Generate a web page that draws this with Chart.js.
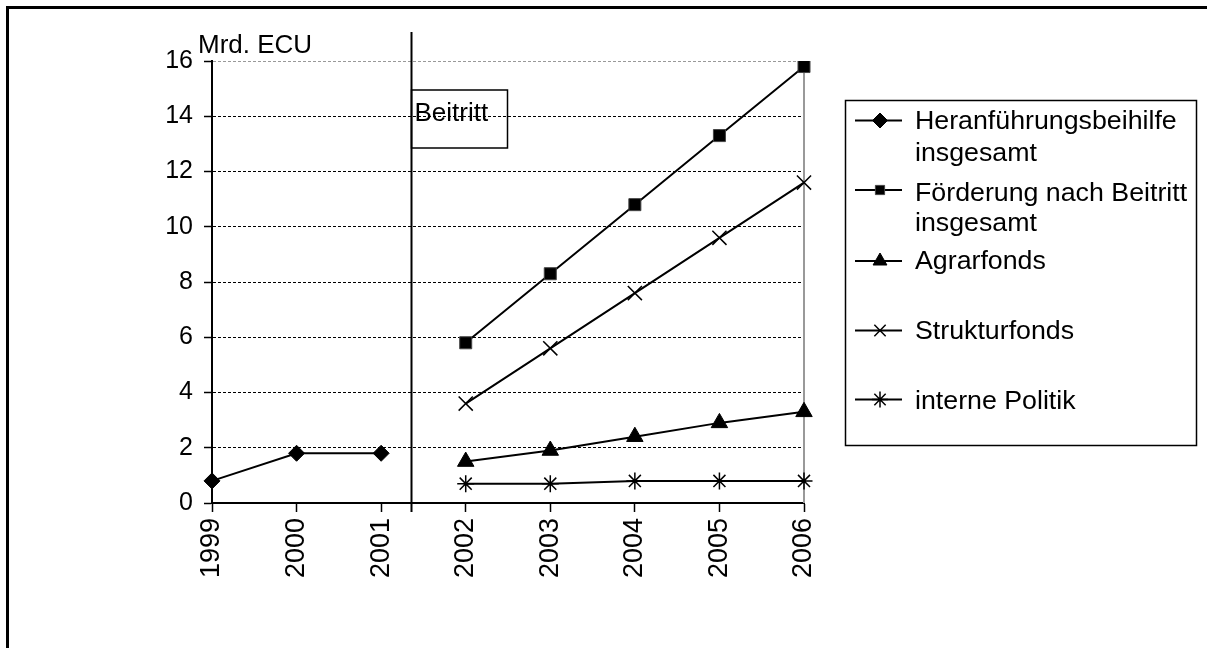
<!DOCTYPE html>
<html>
<head>
<meta charset="utf-8">
<script src="https://cdn.jsdelivr.net/npm/chart.js@4/dist/chart.umd.min.js"></script>
<style>
  html, body { margin: 0; padding: 0; background: #fff; }
  #wrap { width: 1207px; height: 648px; }
</style>
</head>
<body>
<div id="wrap"><canvas id="chart" width="1207" height="648"></canvas></div>
<script>
// Jahre und Beträge (Mrd. ECU)
const years = ['1999', '2000', '2001', '2002', '2003', '2004', '2005', '2006'];
const heranfuehrung  = [0.8, 1.8, 1.8, null, null, null, null, null];
const foerderung     = [null, null, null, 5.8, 8.3, 10.8, 13.3, 15.8];
const agrarfonds     = [null, null, null, 1.5, 1.9, 2.4, 2.9, 3.3];
const strukturfonds  = [null, null, null, 3.6, 5.6, 7.6, 9.6, 11.6];
const internePolitik = [null, null, null, 0.7, 0.7, 0.8, 0.8, 0.8];
const yTicks = [0, 2, 4, 6, 8, 10, 12, 14, 16];

const FONT = "'Liberation Sans', Arial, sans-serif";

function line(label, data, style, radius, legendRadius) {
  return {
    label: label,
    data: data,
    borderColor: '#000',
    borderWidth: 2,
    backgroundColor: '#000',
    pointStyle: style,
    pointRadius: radius,
    pointHoverRadius: radius,
    pointBorderColor: style === 'rect' ? '#444' : '#000',
    pointBorderWidth: style === 'crossRot' || style === 'star' ? 1.5 : 1,
    pointBackgroundColor: '#000',
    legendRadius: legendRadius,
    tension: 0,
    spanGaps: false
  };
}

// Rahmen, Beitrittslinie, Legende usw.
const extras = {
  id: 'extras',
  beforeDatasetsDraw(chart) {
    const ctx = chart.ctx;
    const area = chart.chartArea;
    const x = chart.scales.x;
    ctx.save();
    // rechte Begrenzung grau
    ctx.strokeStyle = '#999';
    ctx.lineWidth = 2;
    ctx.beginPath();
    ctx.moveTo(area.right, area.top);
    ctx.lineTo(area.right, area.bottom);
    ctx.stroke();

    // Trennlinie Beitritt
    const p2 = x.getPixelForValue(2), p3 = x.getPixelForValue(3);
    const sepX = Math.round(p2 + (p3 - p2) * 0.35) + 0.5;
    ctx.strokeStyle = '#000';
    ctx.lineWidth = 2;
    ctx.beginPath();
    ctx.moveTo(sepX, 32);
    ctx.lineTo(sepX, area.bottom + 9);
    ctx.stroke();

    // Kasten "Beitritt"
    ctx.lineWidth = 1.5;
    ctx.strokeRect(sepX, 90, 96, 58);
    ctx.fillStyle = '#000';
    ctx.font = '26px ' + FONT;
    ctx.textBaseline = 'alphabetic';
    ctx.textAlign = 'left';
    ctx.fillText('Beitritt', sepX + 3, 121);
    ctx.restore();
  },
  afterDraw(chart) {
    const ctx = chart.ctx;
    ctx.save();
    ctx.fillStyle = '#000';

    // äußerer Rahmen
    ctx.fillRect(6, 6, 1201, 3);
    ctx.fillRect(6, 6, 3, 642);

    // Einheit
    ctx.font = '26px ' + FONT;
    ctx.textAlign = 'left';
    ctx.textBaseline = 'alphabetic';
    ctx.fillText('Mrd. ECU', 198, 53);

    // Legende
    ctx.strokeStyle = '#000';
    ctx.lineWidth = 1.5;
    ctx.strokeRect(845.5, 100.5, 351, 345);

    const rows = [
      { marker: 120.5, base: [129, 161] },
      { marker: 190, base: [200.5, 231] },
      { marker: 261, base: [269] },
      { marker: 330.5, base: [339] },
      { marker: 399.5, base: [409] }
    ];
    const texts = [
      ['Heranführungsbeihilfe', 'insgesamt'],
      ['Förderung nach Beitritt', 'insgesamt'],
      ['Agrarfonds'],
      ['Strukturfonds'],
      ['interne Politik']
    ];
    chart.data.datasets.forEach((ds, i) => {
      const r = rows[i];
      ctx.strokeStyle = '#000';
      ctx.lineWidth = 2;
      ctx.beginPath();
      ctx.moveTo(855, r.marker);
      ctx.lineTo(902, r.marker);
      ctx.stroke();
      ctx.fillStyle = '#000';
      ctx.strokeStyle = ds.pointBorderColor;
      ctx.lineWidth = ds.pointBorderWidth;
      Chart.helpers.drawPoint(ctx, {
        pointStyle: ds.pointStyle,
        radius: ds.legendRadius,
        borderWidth: ds.pointBorderWidth,
        rotation: 0
      }, 880, r.marker);
      ctx.fillStyle = '#000';
      ctx.font = '25px ' + FONT;
      texts[i].forEach((t, k) => {
        ctx.save();
        ctx.translate(915, r.base[k]);
        ctx.scale(1.07, 1);
        ctx.fillText(t, 0, 0);
        ctx.restore();
      });
    });
    ctx.restore();
  }
};

new Chart(document.getElementById('chart'), {
  type: 'line',
  data: {
    labels: years,
    datasets: [
      line('Heranführungsbeihilfe insgesamt', heranfuehrung, 'rectRot', 8, 7.5),
      line('Förderung nach Beitritt insgesamt', foerderung, 'rect', 8.5, 6.5),
      line('Agrarfonds', agrarfonds, 'triangle', 9.5, 8),
      line('Strukturfonds', strukturfonds, 'crossRot', 10, 8),
      line('interne Politik', internePolitik, 'star', 8.5, 8)
    ]
  },
  options: {
    responsive: false,
    animation: false,
    events: [],
    layout: { padding: { left: 0, top: 61, right: 403, bottom: 0 } },
    plugins: {
      legend: { display: false },
      tooltip: { enabled: false }
    },
    scales: {
      x: {
        type: 'category',
        offset: false,
        grid: {
          drawOnChartArea: false,
          drawTicks: true,
          tickLength: 9,
          tickColor: '#000',
          tickWidth: 1.5
        },
        border: { display: true, color: '#000', width: 2 },
        ticks: {
          autoSkip: false,
          minRotation: 90,
          maxRotation: 90,
          padding: 6,
          color: '#000',
          font: { family: FONT, size: 27 }
        },
        afterFit(scale) { scale.height = 145; }
      },
      y: {
        min: 0,
        max: 16,
        afterBuildTicks(scale) { scale.ticks = yTicks.map(v => ({ value: v })); },
        grid: {
          color: ctx => ctx.tick && ctx.tick.value === 16 ? '#999' : '#000',
          lineWidth: 1,
          tickLength: 8,
          tickColor: '#000',
          tickWidth: 1.5,
          tickBorderDash: []
        },
        border: { display: true, color: '#000', width: 2, dash: [3, 2] },
        ticks: {
          padding: 11,
          color: '#000',
          font: { family: FONT, size: 25 }
        },
        afterFit(scale) { scale.width = 212; }
      }
    }
  },
  plugins: [extras]
});
</script>
</body>
</html>
